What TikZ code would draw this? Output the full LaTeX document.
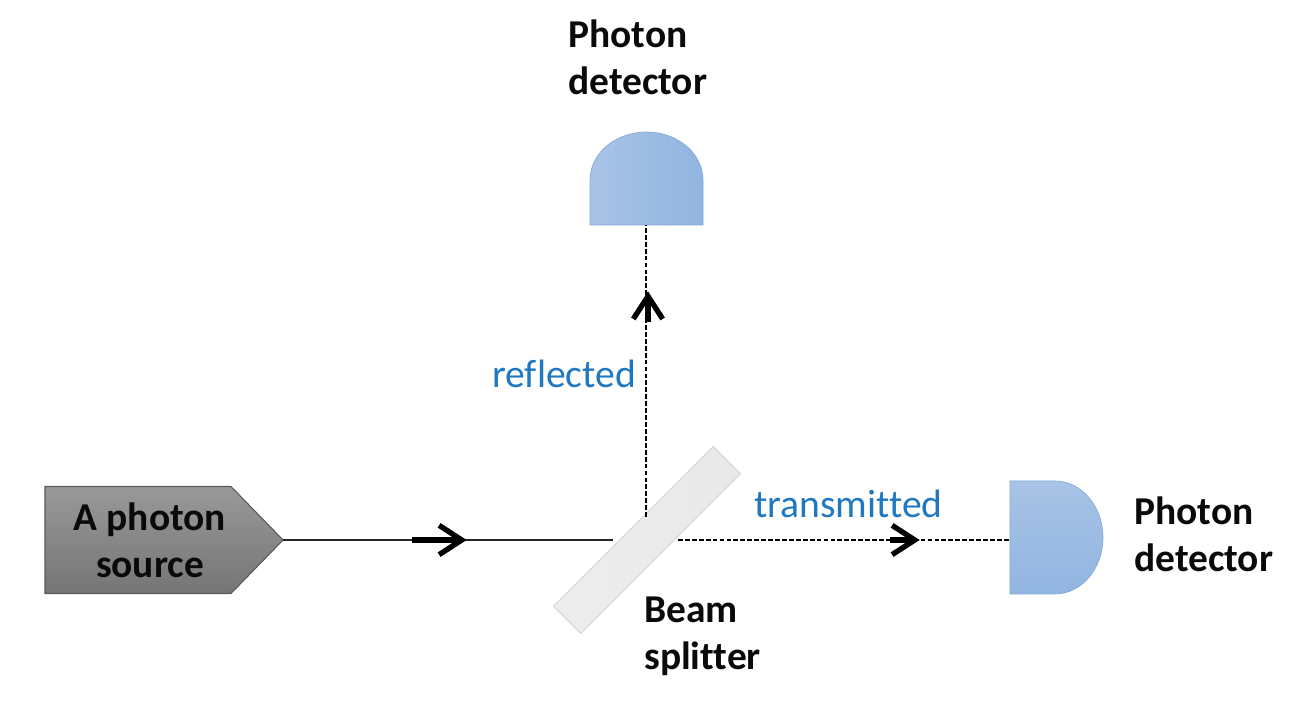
\documentclass[tikz,border=0pt]{standalone}
\usepackage{fontspec}
\setmainfont[Ligatures=CommonOff]{Carlito}
\usetikzlibrary{arrows.meta,calc}
\definecolor{labelblue}{HTML}{1F78C0}
\definecolor{inktext}{HTML}{0A0A0A}
\definecolor{detlight}{RGB}{168,195,229}
\definecolor{detdark}{RGB}{145,181,225}
\definecolor{detline}{RGB}{130,170,220}
\tikzset{
  frame/.style={inner sep=0pt,outer sep=0pt,draw=none},
  title/.style={font=\bfseries\fontsize{29.6}{35.3}\selectfont,text=inktext,align=left,inner sep=0pt},
  pathlabel/.style={font=\fontsize{29.7}{34}\selectfont,text=labelblue,inner sep=0pt},
  ray/.style={line width=1.4pt,draw=black!85},
  dashray/.style={line width=1.4pt,draw=black,dash pattern=on 3.6pt off 1.6pt},
  barb/.style={-{Straight Barb[length=17pt,width=22pt,line width=4pt]},line width=3.8pt,draw=black,shorten >=-2pt}
}
\begin{document}
\begin{tikzpicture}[x=.75pt,y=-.75pt]
\useasboundingbox (0,0) rectangle (1293,705);
\fill[white] (0,0) rectangle (1293,705);

% frames that connectors attach to
\node[frame,minimum width=178.5pt,minimum height=80.25pt] (src) at (164,540) {};
\node[frame,minimum width=84.75pt,minimum height=70.5pt] (detA) at (646.5,178) {};
\node[frame,minimum width=69.75pt,minimum height=84.75pt] (detB) at (1056.5,537.5) {};
\node[rotate=45,minimum width=169.5pt,minimum height=29pt,inner sep=0pt,
      draw=black!18,line width=.6pt,left color=black!7,middle color=black!12,right color=black!9] (bs) at (647,540) {};

% photon source
\shade[top color=black!40,bottom color=black!54,draw=black!65,line width=.8pt]
  (src.north west) -- (231,486.5) -- (src.east) -- (231,593.5) -- (src.south west) -- cycle;
\node[title,align=center] (srctext) at (150,540) {A photon\\source};

% detectors
\shade[left color=detlight,right color=detdark,draw=detline,line width=.5pt]
  (detA.south west) -- (590,180) arc[start angle=180,end angle=360,x radius=56.5,y radius=48] -- (detA.south east) -- cycle;
\shade[top color=detlight,bottom color=detdark,draw=detline,line width=.5pt]
  (detB.north west) -- (1055,481) arc[start angle=-90,end angle=90,x radius=48,y radius=56.5] -- (detB.south west) -- cycle;

% connector ends beside the splitter
\coordinate (inEnd) at (613,540);
\coordinate (outStart) at (678,540);
\coordinate (upStart) at (646,517);
\coordinate (tipA) at (464,540);
\coordinate (tailA) at (412,540);
\coordinate (tipB) at (917,540);
\coordinate (tailB) at (890,540);
\coordinate (tipC) at (648,294);
\coordinate (tailC) at (648,322);

% rays
\draw[ray] (src.east) -- (inEnd);
\draw[dashray] (outStart) -- (outStart -| detB.west);
\draw[dashray] (upStart) -- (upStart |- detA.south);

% arrowheads
\draw[barb] (tailA) -- (tipA);
\draw[barb] (tailB) -- (tipB);
\draw[barb] (tailC) -- (tipC);

% labels
\node[title,anchor=west] (lblA) at (568,57.5) {Photon\\detector};
\node[title,anchor=west] (lblB) at (1134,534.5) {Photon\\detector};
\node[title,anchor=west] (lblC) at (644,636) {Beam\\splitter};
\node[pathlabel,anchor=base west] (refl) at (492,388) {reflected};
\node[pathlabel,anchor=base west] (trans) at (754,518) {transmitted};
\end{tikzpicture}
\end{document}
